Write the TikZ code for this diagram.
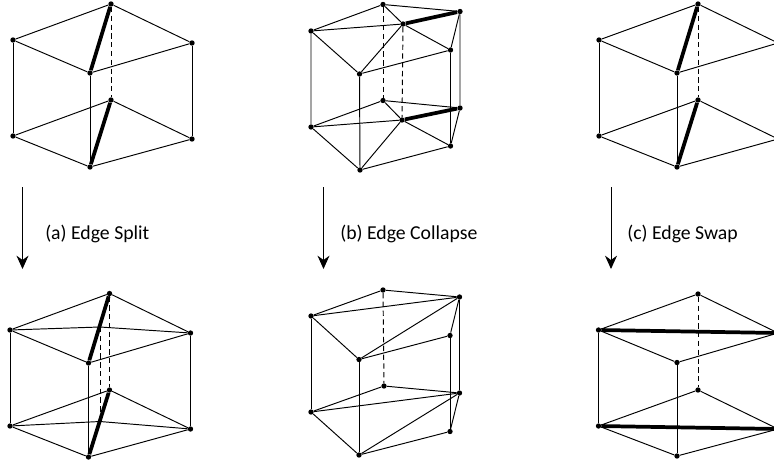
\documentclass[tikz,border=0pt]{standalone}
\usepackage{fontspec}
\setmainfont{Carlito}
\usetikzlibrary{arrows.meta}
\tikzset{
  vtx/.style={circle,fill=black,inner sep=0pt,minimum size=4pt},
  wire/.style={line width=0.72pt},
  hidden/.style={line width=0.72pt,dashed,dash pattern=on 4pt off 2.6pt},
  heavy/.style={line width=2.8pt},
  opstep/.style={line width=0.72pt,-{Stealth[length=10pt,width=9pt]}},
  oplabel/.style={right,inner sep=0pt,font=\fontsize{14.8}{17}\selectfont}
}
\begin{document}
\begin{tikzpicture}[x=0.75pt,y=-0.75pt]
  \useasboundingbox (0,0) rectangle (774,464);
  % split, before
  \node[vtx] (at) at (111,4) {};
  \node[vtx] (al) at (13,40) {};
  \node[vtx] (ar) at (192,43) {};
  \node[vtx] (af) at (90,73) {};
  \node[vtx] (bt) at (111,100) {};
  \node[vtx] (bl) at (13,136) {};
  \node[vtx] (br) at (192,139) {};
  \node[vtx] (bf) at (90,167) {};
  \draw[wire] (at) -- (al) -- (af) -- (ar) -- (at);
  \draw[wire] (bt) -- (bl) -- (bf) -- (br) -- (bt);
  \draw[wire] (al) -- (bl) (af) -- (bf) (ar) -- (br);
  \draw[hidden] (at) -- (bt);
  \draw[heavy] (at) -- (af);
  \draw[heavy] (bt) -- (bf);
  % split, after
  \node[vtx] (ct) at (109.5,293.5) {};
  \node[vtx] (cl) at (10,330) {};
  \node[vtx] (cr) at (190.5,333) {};
  \node[vtx] (cf) at (88.5,363) {};
  \node[vtx] (dt) at (109.5,390) {};
  \node[vtx] (dl) at (10,426) {};
  \node[vtx] (dr) at (190.5,429) {};
  \node[vtx] (df) at (88.5,457) {};
  \coordinate (cm) at (100,327);
  \coordinate (dm) at (100,421.5);
  \draw[wire] (ct) -- (cl) -- (cf) -- (cr) -- (ct);
  \draw[wire] (dt) -- (dl) -- (df) -- (dr) -- (dt);
  \draw[wire] (cl) -- (dl) (cf) -- (df) (cr) -- (dr);
  \draw[wire] (cl) -- (cm) -- (cr);
  \draw[wire] (dl) -- (dm) -- (dr);
  \draw[hidden] (ct) -- (dt);
  \draw[hidden] (cm) -- (dm);
  \draw[heavy] (ct) -- (cf);
  \draw[heavy] (dt) -- (df);
  % collapse, before
  \node[vtx] (et) at (383,4.5) {};
  \node[vtx] (el) at (311,31) {};
  \node[vtx] (er) at (460,11.5) {};
  \node[vtx] (em) at (403,24) {};
  \node[vtx] (es) at (450.5,50) {};
  \node[vtx] (ef) at (359.5,74) {};
  \node[vtx] (ft) at (383,100.5) {};
  \node[vtx] (fl) at (311,127) {};
  \node[vtx] (fr) at (460,108) {};
  \node[vtx] (fm) at (402,120) {};
  \node[vtx] (fs) at (450.5,146) {};
  \node[vtx] (ff) at (360,170) {};
  \draw[wire] (et) -- (el) -- (ef) -- (es) -- (er) -- (et);
  \draw[wire] (el) -- (em) (ef) -- (em) -- (es) (et) -- (em);
  \draw[wire] (ft) -- (fl) -- (ff) -- (fs) -- (fr) -- (ft);
  \draw[wire] (fl) -- (fm) (ff) -- (fm) -- (fs) (ft) -- (fm);
  \draw[wire] (el) -- (fl) (ef) -- (ff) (es) -- (fs) (er) -- (fr);
  \draw[hidden] (et) -- (ft);
  \draw[hidden] (em) -- (fm);
  \draw[heavy] (em) -- (er);
  \draw[heavy] (fm) -- (fr);
  % collapse, after
  \node[vtx] (gt) at (383,290) {};
  \node[vtx] (gl) at (311,316) {};
  \node[vtx] (gr) at (459.5,297) {};
  \node[vtx] (gs) at (450,335.5) {};
  \node[vtx] (gf) at (359,359.5) {};
  \node[vtx] (ht) at (384,386) {};
  \node[vtx] (hl) at (311,412) {};
  \node[vtx] (hr) at (459.5,393) {};
  \node[vtx] (hs) at (450,431.5) {};
  \node[vtx] (hf) at (359,455) {};
  \draw[wire] (gt) -- (gl) -- (gf) -- (gs) -- (gr) -- (gt);
  \draw[wire] (gl) -- (gr) -- (gf);
  \draw[wire] (ht) -- (hl) -- (hf) -- (hs) -- (hr) -- (ht);
  \draw[wire] (hl) -- (hr) -- (hf);
  \draw[wire] (gl) -- (hl) (gf) -- (hf) (gs) -- (hs) (gr) -- (hr);
  \draw[hidden] (gt) -- (ht);
  % swap, before
  \node[vtx] (it) at (698,4) {};
  \node[vtx] (il) at (599,40) {};
  \node[vtx] (ir) at (778,43) {};
  \node[vtx] (if) at (677,73) {};
  \node[vtx] (jt) at (698,100) {};
  \node[vtx] (jl) at (599,136) {};
  \node[vtx] (jr) at (778,139) {};
  \node[vtx] (jf) at (677,167) {};
  \draw[wire] (it) -- (il) -- (if) -- (ir) -- (it);
  \draw[wire] (jt) -- (jl) -- (jf) -- (jr) -- (jt);
  \draw[wire] (il) -- (jl) (if) -- (jf) (ir) -- (jr);
  \draw[hidden] (it) -- (jt);
  \draw[heavy] (it) -- (if);
  \draw[heavy] (jt) -- (jf);
  % swap, after
  \node[vtx] (kt) at (698,294) {};
  \node[vtx] (kl) at (598.5,330) {};
  \node[vtx] (kr) at (778,333) {};
  \node[vtx] (kf) at (677,362.5) {};
  \node[vtx] (lt) at (698,390) {};
  \node[vtx] (ll) at (598.5,426) {};
  \node[vtx] (lr) at (778,429) {};
  \node[vtx] (lf) at (677,456) {};
  \draw[wire] (kt) -- (kl) -- (kf) -- (kr) -- (kt);
  \draw[wire] (lt) -- (ll) -- (lf) -- (lr) -- (lt);
  \draw[wire] (kl) -- (ll) (kf) -- (lf) (kr) -- (lr);
  \draw[hidden] (kt) -- (lt);
  \draw[heavy] (kl) -- (kr);
  \draw[heavy] (ll) -- (lr);
  % steps between the rows
  \coordinate (sa) at (22.5,187);
  \coordinate (ea) at (22.5,269);
  \coordinate (sb) at (323.5,187);
  \coordinate (eb) at (323.5,269);
  \coordinate (sc) at (611,187);
  \coordinate (ec) at (611,269);
  \draw[opstep] (sa) -- (ea);
  \draw[opstep] (sb) -- (eb);
  \draw[opstep] (sc) -- (ec);
  \node[oplabel] (la) at (45,234) {(a) Edge Split};
  \node[oplabel] (lb) at (340,234) {(b) Edge Collapse};
  \node[oplabel] (lc) at (627,234) {(c) Edge Swap};
\end{tikzpicture}
\end{document}
